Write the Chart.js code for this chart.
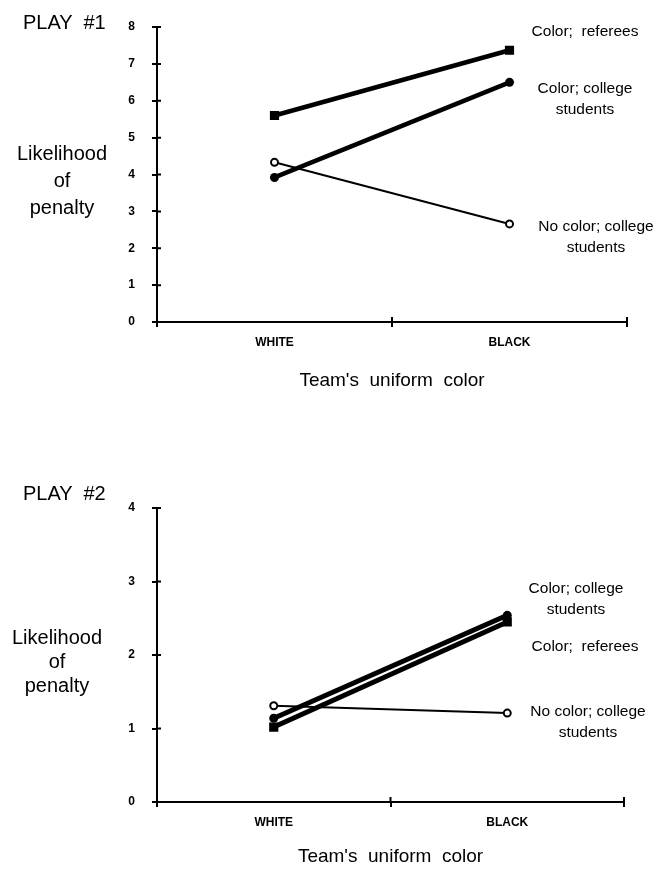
<!DOCTYPE html>
<html>
<head>
<meta charset="utf-8">
<script src="https://cdn.jsdelivr.net/npm/chart.js@4/dist/chart.umd.min.js"></script>
<style>
  html, body { margin: 0; padding: 0; background: #fff; }
  body { width: 661px; height: 870px; position: relative; overflow: hidden;
         font-family: "Liberation Sans", Arial, sans-serif; color: #000; }
  .box { position: absolute; left: 0; width: 661px; height: 400px; }
  .t { position: absolute; white-space: pre; text-align: center; line-height: 1; }
  .play { font-size: 20px; }
  .ylab { font-size: 20px; width: 120px; }
  .ser { font-size: 15.5px; width: 160px; line-height: 21px; }
</style>
</head>
<body>
<div class="box" style="top:0px"><canvas id="c1" width="661" height="400"></canvas></div>
<div class="box" style="top:470px"><canvas id="c2" width="661" height="400"></canvas></div>

<div class="t play" style="left:23px; top:12px;">PLAY  #1</div>
<div class="t ylab" style="left:2px; top:143px;">Likelihood</div>
<div class="t ylab" style="left:2px; top:170px;">of</div>
<div class="t ylab" style="left:2px; top:197px;">penalty</div>

<div class="t ser" style="left:505px; top:20px;">Color;  referees</div>
<div class="t ser" style="left:505px; top:77px;">Color; college
students</div>
<div class="t ser" style="left:516px; top:215px;">No color; college
students</div>

<div class="t play" style="left:23px; top:483px;">PLAY  #2</div>
<div class="t ylab" style="left:-3px; top:627px;">Likelihood</div>
<div class="t ylab" style="left:-3px; top:651px;">of</div>
<div class="t ylab" style="left:-3px; top:675px;">penalty</div>

<div class="t ser" style="left:496px; top:577px;">Color; college
students</div>
<div class="t ser" style="left:505px; top:635px;">Color;  referees</div>
<div class="t ser" style="left:508px; top:700px;">No color; college
students</div>

<script>
// ---- data ----
const categories = ['WHITE', 'BLACK'];
const seriesNames = ['Color; referees', 'Color; college students', 'No color; college students'];

const play1ColorReferees   = [5.60, 7.37];
const play1ColorStudents   = [3.92, 6.50];
const play1NoColorStudents = [4.33, 2.66];

const play2ColorReferees   = [1.02, 2.45];
const play2ColorStudents   = [1.14, 2.54];
const play2NoColorStudents = [1.31, 1.21];

const play1YMax = 8;
const play2YMax = 4;
const xTitle = "Team's  uniform  color";

// ---- helpers ----
const FONT = '"Liberation Sans", Arial, sans-serif';

function makeDatasets(referees, students, noColor, thick) {
  return [
    { label: seriesNames[0], data: referees, borderColor: '#000', backgroundColor: '#000',
      borderWidth: thick, pointStyle: 'rect', pointRadius: 6.5, pointBorderWidth: 0 },
    { label: seriesNames[1], data: students, borderColor: '#000', backgroundColor: '#000',
      borderWidth: thick, pointStyle: 'circle', pointRadius: 4.5, pointBorderWidth: 0 },
    { label: seriesNames[2], data: noColor, borderColor: '#000', backgroundColor: '#fff',
      borderWidth: 2, pointStyle: 'circle', pointRadius: 3.5, pointBorderWidth: 2 }
  ];
}

const innerTicks = {
  id: 'innerTicks',
  afterDraw(chart) {
    const { ctx, scales: { x, y }, chartArea } = chart;
    ctx.save();
    ctx.strokeStyle = '#000';
    ctx.lineWidth = 2;
    ctx.beginPath();
    y.ticks.forEach(t => {
      const py = y.getPixelForValue(t.value);
      ctx.moveTo(chartArea.left, py);
      ctx.lineTo(chartArea.left + 4, py);
    });
    const mid = (chartArea.left + chartArea.right) / 2;
    [mid, chartArea.right].forEach(px => {
      ctx.moveTo(px, chartArea.bottom);
      ctx.lineTo(px, chartArea.bottom - 5);
    });
    ctx.stroke();
    ctx.restore();
  }
};

function makeChart(id, datasets, yMax, plotTop, plotBottom, rightPad, titlePadBottom) {
  const H = 400;
  return new Chart(document.getElementById(id), {
    type: 'line',
    data: { labels: categories, datasets },
    options: {
      responsive: false,
      animation: false,
      events: [],
      layout: { padding: { top: plotTop, right: rightPad, left: 0, bottom: 0 } },
      plugins: { legend: { display: false }, tooltip: { enabled: false } },
      elements: { line: { tension: 0 } },
      scales: {
        x: {
          type: 'category',
          offset: true,
          grid: { offset: true, drawOnChartArea: false, tickLength: 5, color: '#000', lineWidth: 2 },
          border: { display: true, color: '#000', width: 2 },
          ticks: { color: '#000', font: { family: FONT, size: 12, weight: 'bold' }, padding: 8, maxRotation: 0 },
          title: { display: true, text: xTitle, color: '#000',
                   font: { family: FONT, size: 19 }, padding: { top: 0, bottom: titlePadBottom } },
          afterFit: s => { s.height = H - plotBottom; }
        },
        y: {
          min: 0, max: yMax,
          grid: { drawOnChartArea: false, tickLength: 5, color: '#000', lineWidth: 2 },
          border: { display: true, color: '#000', width: 2 },
          ticks: { stepSize: 1, color: '#000', font: { family: FONT, size: 12, weight: 'bold' }, padding: 17 },
          afterFit: s => { s.width = 157; }
        }
      }
    },
    plugins: [innerTicks]
  });
}

makeChart('c1', makeDatasets(play1ColorReferees, play1ColorStudents, play1NoColorStudents, 4.5),
          play1YMax, 27, 322, 34, 8);
makeChart('c2', makeDatasets(play2ColorReferees, play2ColorStudents, play2NoColorStudents, 5),
          play2YMax, 38, 332, 37, 2);
</script>
</body>
</html>
